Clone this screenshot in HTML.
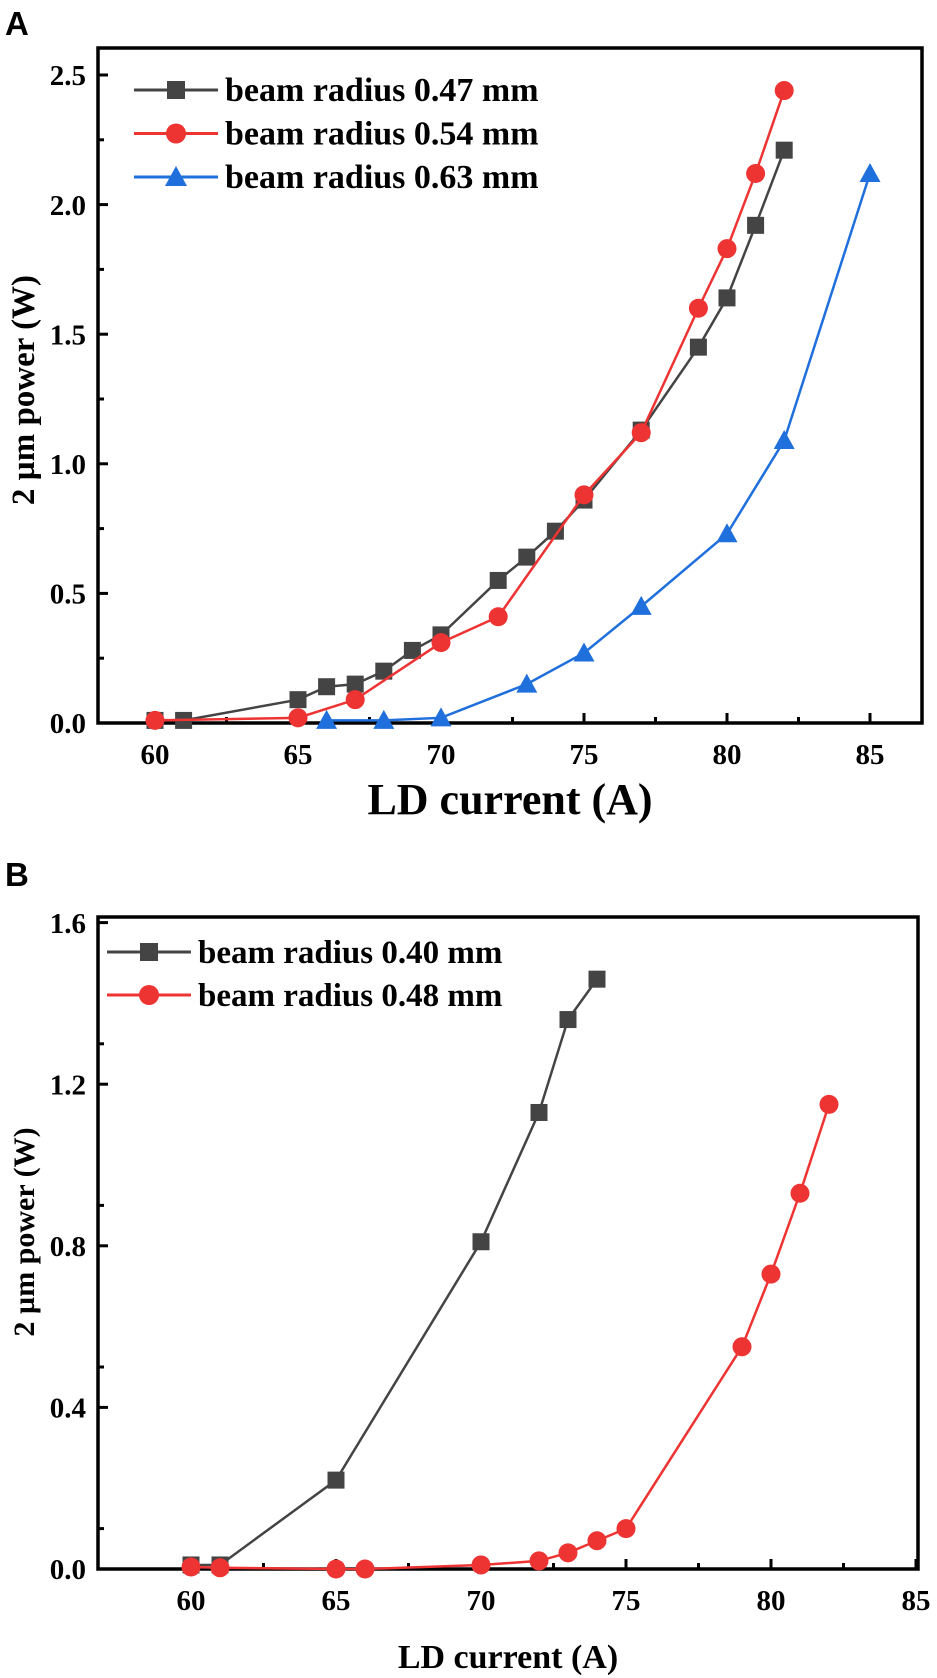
<!DOCTYPE html>
<html><head><meta charset="utf-8"><style>
body{margin:0;background:#fff;}
svg{display:block;font-family:"Liberation Serif",serif;}
</style></head><body>
<svg id="c" width="937" height="1678" viewBox="0 0 937 1678"></svg>
<script>
const xA1=[60,61,65,66,67,68,69,70,72,73,74,75,77,79,80,81,82];
const yA1=[0.01,0.01,0.09,0.14,0.15,0.2,0.28,0.34,0.55,0.64,0.74,0.86,1.13,1.45,1.64,1.92,2.21];
const xA2=[60,65,67,70,72,75,77,79,80,81,82];
const yA2=[0.01,0.02,0.09,0.31,0.41,0.88,1.12,1.60,1.83,2.12,2.44];
const xA3=[66,68,70,73,75,77,80,82,85];
const yA3=[0.01,0.01,0.02,0.15,0.27,0.45,0.73,1.09,2.12];
const xB1=[60,61,65,70,72,73,74];
const yB1=[0.01,0.01,0.22,0.81,1.13,1.36,1.46];
const xB2=[60,61,65,66,70,72,73,74,75,79,80,81,82];
const yB2=[0.005,0.003,0,0,0.01,0.02,0.04,0.07,0.1,0.55,0.73,0.93,1.15];
const ticksA=["0.0","0.5","1.0","1.5","2.0","2.5"];
const ticksB=["0.0","0.4","0.8","1.2","1.6"];
const xticks=["60","65","70","75","80","85"];
const legA=["beam radius 0.47 mm","beam radius 0.54 mm","beam radius 0.63 mm"];
const legB=["beam radius 0.40 mm","beam radius 0.48 mm"];

const svg=document.getElementById('c');
const NS='http://www.w3.org/2000/svg';
function mk(t,a,p){const e=document.createElementNS(NS,t);for(const k in a)e.setAttribute(k,a[k]);(p||svg).appendChild(e);return e;}
function txt(s,a,p){const e=mk('text',a,p);e.textContent=s;return e;}
const COL={sq:'#444444',ci:'#ee3333',tr:'#1f6fdc'};
function marker(g,type,x,y,s){
  let e;
  if(type==='sq'){e=mk('rect',{x:x-s,y:y-s,width:2*s,height:2*s,fill:COL.sq},g);}
  else if(type==='ci'){e=mk('circle',{cx:x,cy:y,r:s+1,fill:COL.ci},g);}
  else {e=mk('polygon',{points:`${x},${y-s-2} ${x-s-2},${y+s} ${x+s+2},${y+s}`,fill:COL.tr},g);}
  return e;
}
function panel(o){
  const g=mk('g',{});
  
  
  const X=v=>o.x0+(v-60)*o.xs, Y=v=>o.y0-v*o.ys;
  const box=mk('rect',{x:o.L,y:o.T,width:o.R-o.L,height:o.y0-o.T,fill:'none',stroke:'#000','stroke-width':3.5},g);
  
  o.yt.forEach((t,i)=>{const v=parseFloat(t);const y=Y(v);
    mk('line',{x1:o.L,x2:o.L+10,y1:y,y2:y,stroke:'#000','stroke-width':3},g);
    const h=v+o.ystep/2; if(Y(h)>o.T+2) mk('line',{x1:o.L,x2:o.L+6,y1:Y(h),y2:Y(h),stroke:'#000','stroke-width':3},g);
    const l=txt(t,{x:o.L-12,y:y+o.tf*0.35,'text-anchor':'end','font-size':o.tf,'font-weight':'bold'},g);
    });
  xticks.forEach(t=>{const v=+t;const x=X(v);
    mk('line',{x1:x,x2:x,y1:o.y0,y2:o.y0-10,stroke:'#000','stroke-width':3},g);
    const h=v+2.5; if(X(h)<o.R-3) mk('line',{x1:X(h),x2:X(h),y1:o.y0,y2:o.y0-6,stroke:'#000','stroke-width':3},g);
    const l=txt(t,{x:x,y:o.y0+31+o.tf*0.35,'text-anchor':'middle','font-size':o.tf,'font-weight':'bold'},g);
    });
  o.series.forEach((s,i)=>{
    const sg=mk('g',{},g);
    
    const pts=s.x.map((v,j)=>X(v)+','+Y(s.y[j])).join(' ');
    const pl=mk('polyline',{points:pts,fill:'none',stroke:COL[s.m],'stroke-width':2.5},sg);
    
    s.x.forEach((v,j)=>{const m=marker(sg,s.m,X(v),Y(s.y[j]),8.5);
      });
    const ly=o.legY+i*o.legDy;
    const lg=mk('g',{},g);
    
    mk('line',{x1:o.legX,x2:o.legX+84,y1:ly,y2:ly,stroke:COL[s.m],'stroke-width':3},lg);
    marker(lg,s.m,o.legX+42,ly,9);
    txt(s.label,{x:o.legX+91,y:ly+o.lf*0.33,'font-size':o.lf,'font-weight':'bold'},lg);
  });
  const xt=txt('LD current (A)',{x:(o.L+o.R)/2,y:o.xtY,'text-anchor':'middle','font-size':o.xtf,'font-weight':'bold'},g);
  
  const cy=o.ytY;
  const yt=txt('2 µm power (W)',{x:o.ytX,y:cy,'text-anchor':'middle','font-size':o.ytf,'font-weight':'bold',transform:`rotate(-90 ${o.ytX} ${cy})`},g);
  
  const pl=txt(o.letter,{x:5,y:o.letY,'font-size':33,'font-weight':'bold','font-family':'Liberation Sans, sans-serif'},g);
  
}
panel({name:'panel-a',letter:'A',letY:35,L:98,R:922,T:48,y0:723,x0:155,xs:28.6,ys:259.2,ystep:0.5,yt:ticksA,tf:29,
  legX:134,legY:90,legDy:43.5,lf:34,xtY:814,xtf:44,ytX:34,ytY:390,ytf:33,
  series:[{id:'047',x:xA1,y:yA1,m:'sq',label:legA[0]},{id:'054',x:xA2,y:yA2,m:'ci',label:legA[1]},{id:'063',x:xA3,y:yA3,m:'tr',label:legA[2]}]});
panel({name:'panel-b',letter:'B',letY:886,L:98,R:918,T:917,y0:1569,x0:191,xs:29,ys:404,ystep:0.2,yt:ticksB,tf:29,
  legX:107,legY:952,legDy:43,lf:33,xtY:1668,xtf:34,ytX:34,ytY:1232,ytf:30,
  series:[{id:'040',x:xB1,y:yB1,m:'sq',label:legB[0]},{id:'048',x:xB2,y:yB2,m:'ci',label:legB[1]}]});
</script>
</body></html>
